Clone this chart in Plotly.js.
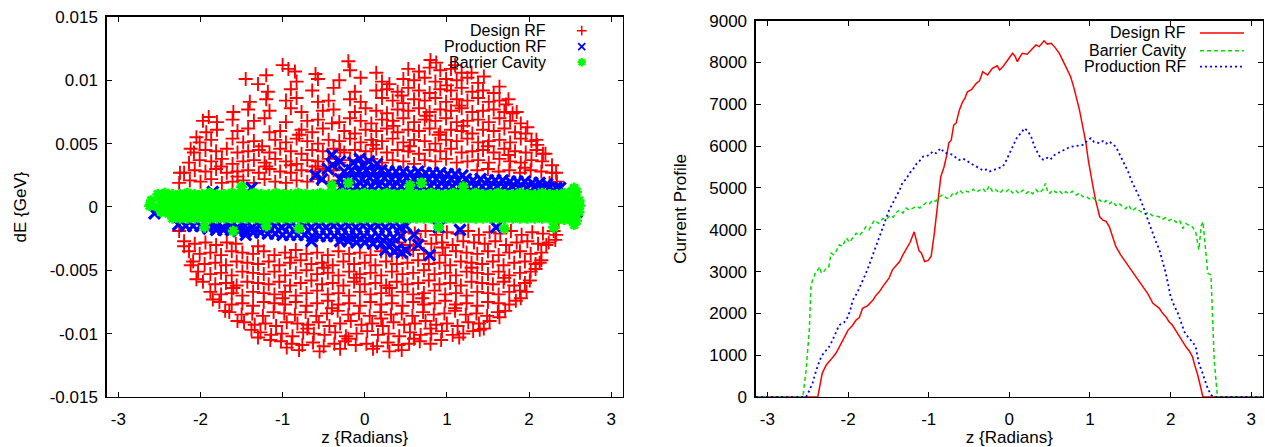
<!DOCTYPE html>
<html><head><meta charset="utf-8">
<script src="https://cdn.plot.ly/plotly-3.0.1.min.js"></script>
<style>html,body{margin:0;padding:0;background:#fff}#chart{width:1265px;height:447px}</style>
</head><body><div id="chart"></div>
<script>
// ---------- DATA ----------
const seriesNames = ['Design RF', 'Production RF', 'Barrier Cavity'];
const profileNames = ['Design RF', 'Barrier Cavity', 'Production RF'];

const zTickVals = [-3, -2, -1, 0, 1, 2, 3];
const zTickText = ['-3', '-2', '-1', '0', '1', '2', '3'];
const dETickVals = [-0.015, -0.01, -0.005, 0, 0.005, 0.01, 0.015];
const dETickText = ['-0.015', '-0.01', '-0.005', '0', '0.005', '0.01', '0.015'];
const currentTickVals = [0, 1000, 2000, 3000, 4000, 5000, 6000, 7000, 8000, 9000];
const currentTickText = ['0', '1000', '2000', '3000', '4000', '5000', '6000', '7000', '8000', '9000'];

// phase space [z (rad), dE (GeV)] -- Design RF
const designPts = [
[-2.26,.0019],[-2.13,.0021],[-2.0,.002],[-1.87,.0022],[-1.74,.0019],[-1.61,.002],[-1.48,.0021],[-1.35,.0019],[-1.22,.0022],[-1.09,.002],[-0.96,.0019],[-0.83,.0021],[-0.7,.002],[-0.57,.0022],[-0.44,.002],[-0.32,.0021],[2.25,.0019],[2.34,.002],
[-2.2,.0027],[-2.07,.0029],[-1.94,.0028],[-1.81,.003],[-1.68,.0027],[-1.55,.0028],[-1.42,.0029],[-1.29,.0027],[-1.16,.003],[-1.03,.0028],[-0.9,.0027],[-0.77,.0029],[-0.64,.0028],[-0.51,.003],[-0.38,.0029],[1.37,.0029],[1.5,.003],[1.63,.0028],[1.76,.0029],[1.89,.0027],[2.02,.0029],[2.15,.0028],[2.28,.0027],
[-2.14,.0035],[-2.01,.0037],[-1.87,.0036],[-1.74,.0038],[-1.61,.0034],[-1.48,.0036],[-1.35,.0037],[-1.22,.0035],[-1.09,.0038],[-0.96,.0036],[-0.83,.0034],[-0.7,.0037],[-0.57,.0036],[-0.44,.0038],[-0.31,.0035],[-0.18,.0037],[-0.05,.0036],[0.08,.0038],[0.21,.0035],[0.34,.0037],[0.47,.0036],[0.6,.0034],[0.73,.0037],[0.86,.0036],[0.99,.0038],[1.12,.0035],[1.25,.0036],[1.38,.0037],[1.51,.0035],[1.64,.0038],[1.77,.0036],[1.9,.0035],[2.03,.0037],[2.16,.0036],
[-2.08,.0043],[-1.94,.0045],[-1.81,.0044],[-1.68,.0046],[-1.55,.0043],[-1.42,.0044],[-1.29,.0045],[-1.16,.0043],[-1.03,.0046],[-0.9,.0044],[-0.77,.0042],[-0.64,.0045],[-0.51,.0044],[-0.38,.0046],[-0.25,.0043],[-0.12,.0045],[0.01,.0044],[0.14,.0046],[0.27,.0043],[0.4,.0045],[0.53,.0044],[0.66,.0042],[0.79,.0045],[0.92,.0044],[1.05,.0046],[1.18,.0043],[1.31,.0044],[1.44,.0045],[1.57,.0043],[1.7,.0046],[1.83,.0044],[1.96,.0043],[2.09,.0045],[2.17,.0042],
[-2.01,.0051],[-1.87,.0053],[-1.61,.0054],[-1.48,.0051],[-1.35,.0052],[-1.09,.0053],[-0.96,.0051],[-0.83,.0054],[-0.7,.0052],[-0.57,.005],[-0.44,.0053],[-0.31,.0052],[-0.18,.0054],[-0.05,.0051],[0.08,.0053],[0.21,.0052],[0.34,.0054],[0.47,.0051],[0.6,.0053],[0.73,.0052],[0.86,.005],[0.99,.0053],[1.12,.0052],[1.25,.0054],[1.38,.0051],[1.51,.0052],[1.64,.0053],[1.77,.0051],[1.9,.0054],[2.03,.0052],[2.1,.0049],
[-1.93,.0059],[-1.8,.0061],[-1.55,.006],[-1.42,.0062],[-1.16,.0059],[-1.03,.006],[-0.77,.0061],[-0.64,.0059],[-0.51,.0062],[-0.25,.006],[-0.12,.0058],[0.01,.0061],[0.14,.006],[0.27,.0062],[0.4,.0059],[0.53,.0061],[0.66,.006],[0.79,.0062],[0.92,.0059],[1.05,.0061],[1.18,.006],[1.31,.0058],[1.44,.0061],[1.57,.006],[1.7,.0062],[1.83,.0059],[1.96,.0058],
[-1.8,.0067],[-1.61,.0069],[-1.35,.0068],[-1.22,.007],[-0.96,.0067],[-0.7,.0068],[-0.57,.0069],[-0.31,.0067],[-0.18,.007],[-0.05,.0068],[0.08,.0066],[0.21,.0069],[0.34,.0068],[0.47,.007],[0.6,.0067],[0.73,.0069],[0.86,.0068],[0.99,.007],[1.12,.0067],[1.25,.0068],[1.38,.0069],[1.51,.0067],[1.64,.007],[1.77,.0068],[1.9,.0066],
[-1.6,.0075],[-1.42,.0077],[-1.16,.0076],[-0.9,.0078],[-0.77,.0075],[-0.51,.0076],[-0.38,.0077],[-0.12,.0075],[0.01,.0078],[0.14,.0076],[0.27,.0074],[0.4,.0077],[0.53,.0076],[0.66,.0078],[0.79,.0075],[0.92,.0077],[1.05,.0076],[1.18,.0078],[1.31,.0075],[1.44,.0076],[1.57,.0077],[1.7,.0075],[1.8,.0074],
[-1.4,.0083],[-1.2,.0085],[-0.96,.0084],[-0.83,.0086],[-0.57,.0083],[-0.44,.0084],[-0.18,.0085],[-0.05,.0083],[0.21,.0086],[0.34,.0084],[0.47,.0082],[0.6,.0085],[0.73,.0084],[0.86,.0086],[0.99,.0083],[1.12,.0085],[1.25,.0084],[1.38,.0086],[1.51,.0083],[1.64,.0084],[1.72,.0081],
[-1.18,.0091],[-0.9,.0093],[-0.64,.0092],[-0.38,.0094],[-0.12,.0091],[0.14,.0092],[0.27,.0093],[0.4,.0091],[0.53,.0094],[0.66,.0092],[0.79,.009],[0.92,.0093],[1.05,.0092],[1.18,.0094],[1.31,.0091],[1.44,.0092],[1.57,.009],
[-1.45,.0101],[-0.83,.0099],[-0.57,.0101],[-0.31,.01],[-0.05,.0102],[0.21,.0099],[0.47,.0101],[0.6,.01],[0.73,.0102],[0.86,.0099],[0.99,.0101],[1.12,.01],[1.25,.0102],[1.38,.0098],
[-0.85,.0107],[-0.6,.0105],[-0.18,.0108],[0.14,.0106],[0.53,.0109],[0.66,.0107],[0.79,.011],[0.92,.0108],[1.05,.0109],[1.18,.0106],
[-1.0,.0112],[-0.93,.0109],[-0.2,.0115],[0.8,.0116],[0.87,.0114],[-1.2,.0104],[-1.9,.0071],[-1.97,.0068],[-1.3,.0097],[1.1,.0112],
[-2.25,.0027],[-2.12,.0046],[-2.05,.0055],[2.33,.0027],[2.28,.0033],[2.2,.0042],[2.09,.0053],[1.98,.0063],[1.85,.0075],[1.75,.0085],[1.64,.0095],[1.45,.0103],[1.3,.0106],
[-1.55,.0024],[-1.2,.0032],[-0.9,.0033],[-0.6,.0032],[-1.75,.0032],[-0.3,.0045],[0.1,.0049],[0.55,.0048],[0.9,.0057],[1.2,.0064],[1.5,.0048],[0.35,.0064],[0.75,.0072],[1.15,.008],[0.45,.0088],[1.0,.0096],[0.3,.0097],[-0.4,.0066],[-0.8,.0057],[-1.25,.0048],[1.75,.0041],[1.95,.0031],
[-2.26,-.0019],[0.48,-.002],[0.61,-.0021],[0.74,-.0019],[0.87,-.0022],[1.0,-.002],[1.13,-.0021],[1.26,-.0019],[1.39,-.0022],[1.52,-.002],[1.65,-.0021],[1.78,-.0019],[1.91,-.0022],[2.04,-.002],[2.17,-.0021],[2.3,-.0019],
[-2.2,-.0027],[-2.07,-.0029],[-1.94,-.0028],[-1.81,-.003],[-1.68,-.0028],[-1.57,-.0029],[0.42,-.0028],[0.55,-.003],[0.68,-.0027],[0.81,-.0029],[0.94,-.0028],[1.07,-.003],[1.2,-.0027],[1.33,-.0028],[1.46,-.0029],[1.59,-.0027],[1.72,-.003],[1.85,-.0028],[1.98,-.0027],[2.11,-.0029],[2.24,-.0028],[2.32,-.0026],
[-2.14,-.0035],[-2.01,-.0037],[-1.88,-.0036],[-1.75,-.0038],[-1.62,-.0035],[-1.49,-.0036],[-1.36,-.0037],[-1.23,-.0035],[-1.1,-.0038],[-0.97,-.0036],[-0.84,-.0034],[-0.71,-.0037],[-0.58,-.0036],[-0.45,-.0038],[-0.32,-.0035],[-0.19,-.0037],[-0.06,-.0036],[0.07,-.0038],[0.2,-.0035],[0.33,-.0037],[0.46,-.0036],[0.59,-.0034],[0.72,-.0037],[0.85,-.0036],[0.98,-.0038],[1.11,-.0035],[1.24,-.0036],[1.37,-.0037],[1.5,-.0035],[1.63,-.0038],[1.76,-.0036],[1.89,-.0035],[2.02,-.0037],[2.15,-.0036],
[-2.09,-.0043],[-1.95,-.0045],[-1.82,-.0044],[-1.69,-.0046],[-1.56,-.0043],[-1.43,-.0044],[-1.3,-.0045],[-1.17,-.0043],[-1.04,-.0046],[-0.91,-.0044],[-0.78,-.0042],[-0.65,-.0045],[-0.52,-.0044],[-0.39,-.0046],[-0.26,-.0043],[-0.13,-.0045],[0.0,-.0044],[0.13,-.0046],[0.26,-.0043],[0.39,-.0045],[0.52,-.0044],[0.65,-.0042],[0.78,-.0045],[0.91,-.0044],[1.04,-.0046],[1.17,-.0043],[1.3,-.0044],[1.43,-.0045],[1.56,-.0043],[1.69,-.0046],[1.82,-.0044],[1.95,-.0043],[2.08,-.0045],[2.15,-.0042],
[-2.03,-.0051],[-1.88,-.0053],[-1.75,-.0052],[-1.62,-.0054],[-1.49,-.0051],[-1.36,-.0052],[-1.23,-.0053],[-1.1,-.0051],[-0.97,-.0054],[-0.84,-.0052],[-0.71,-.005],[-0.58,-.0053],[-0.45,-.0052],[-0.32,-.0054],[-0.19,-.0051],[-0.06,-.0053],[0.07,-.0052],[0.2,-.0054],[0.33,-.0051],[0.46,-.0053],[0.59,-.0052],[0.72,-.005],[0.85,-.0053],[0.98,-.0052],[1.11,-.0054],[1.24,-.0051],[1.37,-.0052],[1.5,-.0053],[1.63,-.0051],[1.76,-.0054],[1.89,-.0052],[2.02,-.0051],[2.08,-.0049],
[-1.97,-.0059],[-1.82,-.0061],[-1.69,-.006],[-1.56,-.0062],[-1.43,-.0059],[-1.3,-.006],[-1.17,-.0061],[-1.04,-.0059],[-0.91,-.0062],[-0.78,-.006],[-0.65,-.0058],[-0.52,-.0061],[-0.39,-.006],[-0.26,-.0062],[-0.13,-.0059],[0.0,-.0061],[0.13,-.006],[0.26,-.0062],[0.39,-.0059],[0.52,-.0061],[0.65,-.006],[0.78,-.0058],[0.91,-.0061],[1.04,-.006],[1.17,-.0062],[1.3,-.0059],[1.43,-.006],[1.56,-.0061],[1.69,-.0059],[1.82,-.0062],[1.95,-.006],[2.01,-.0058],
[-1.88,-.0067],[-1.75,-.0069],[-1.62,-.0068],[-1.49,-.007],[-1.36,-.0067],[-1.23,-.0068],[-1.1,-.0069],[-0.97,-.0067],[-0.84,-.007],[-0.71,-.0068],[-0.58,-.0066],[-0.45,-.0069],[-0.32,-.0068],[-0.19,-.007],[-0.06,-.0067],[0.07,-.0069],[0.2,-.0068],[0.33,-.007],[0.46,-.0067],[0.59,-.0069],[0.72,-.0068],[0.85,-.0066],[0.98,-.0069],[1.11,-.0068],[1.24,-.007],[1.37,-.0067],[1.5,-.0068],[1.63,-.0069],[1.76,-.0067],[1.89,-.0066],
[-1.77,-.0075],[-1.62,-.0077],[-1.49,-.0076],[-1.36,-.0078],[-1.23,-.0075],[-1.1,-.0076],[-0.97,-.0077],[-0.84,-.0075],[-0.71,-.0078],[-0.58,-.0076],[-0.45,-.0074],[-0.32,-.0077],[-0.19,-.0076],[-0.06,-.0078],[0.07,-.0075],[0.2,-.0077],[0.33,-.0076],[0.46,-.0078],[0.59,-.0075],[0.72,-.0077],[0.85,-.0076],[0.98,-.0074],[1.11,-.0077],[1.24,-.0076],[1.37,-.0078],[1.5,-.0075],[1.63,-.0076],[1.76,-.0077],[1.84,-.0074],
[-1.65,-.0083],[-1.5,-.0085],[-1.37,-.0084],[-1.24,-.0086],[-1.11,-.0083],[-0.98,-.0084],[-0.85,-.0085],[-0.72,-.0083],[-0.59,-.0086],[-0.46,-.0084],[-0.33,-.0082],[-0.2,-.0085],[-0.07,-.0084],[0.06,-.0086],[0.19,-.0083],[0.32,-.0085],[0.45,-.0084],[0.58,-.0086],[0.71,-.0083],[0.84,-.0085],[0.97,-.0084],[1.1,-.0082],[1.23,-.0085],[1.36,-.0084],[1.49,-.0086],[1.62,-.0083],[1.71,-.0082],
[-1.47,-.0091],[-1.34,-.0093],[-1.21,-.0092],[-1.08,-.0094],[-0.95,-.0091],[-0.82,-.0092],[-0.69,-.0093],[-0.56,-.0091],[-0.43,-.0094],[-0.3,-.0092],[-0.17,-.009],[-0.04,-.0093],[0.09,-.0092],[0.22,-.0094],[0.35,-.0091],[0.48,-.0093],[0.61,-.0092],[0.74,-.009],[0.87,-.0093],[1.0,-.0092],[1.13,-.0094],[1.26,-.0091],[1.39,-.0092],[1.52,-.009],
[-1.27,-.0099],[-1.14,-.0101],[-1.01,-.01],[-0.88,-.0102],[-0.75,-.0099],[-0.62,-.01],[-0.49,-.0101],[-0.36,-.0099],[-0.23,-.0102],[-0.1,-.01],[0.03,-.0098],[0.16,-.0101],[0.29,-.01],[0.42,-.0102],[0.55,-.0099],[0.68,-.0101],[0.81,-.01],[0.94,-.0098],[1.07,-.0101],[1.2,-.01],[1.32,-.0098],
[-1.02,-.0106],[-0.89,-.0108],[-0.76,-.0109],[-0.63,-.0107],[-0.5,-.011],[-0.37,-.0108],[-0.24,-.0106],[-0.11,-.0109],[0.02,-.0108],[0.15,-.011],[0.28,-.0107],[0.41,-.0109],[0.54,-.0108],[0.67,-.0106],[0.8,-.0108],[0.93,-.0105],
[-0.8,-.0113],[-0.55,-.0114],[-0.3,-.0112],[0.3,-.0114],[0.45,-.0113],[0.1,-.0112],[-0.95,-.0111],[-1.3,-.0103],[1.15,-.0103],[1.45,-.0096],
[-2.2,-.0031],[-2.12,-.0046],[-2.05,-.0057],[-1.85,-.0073],[-1.7,-.0082],[-1.55,-.009],[-1.38,-.0097],[-1.15,-.0105],
[2.21,-.003],[2.13,-.0044],[1.97,-.0067],[1.9,-.0072],[1.64,-.0087],[1.4,-.0097],[2.33,-.0022],[2.36,-.0012],
[-1.3,-.0031],[-0.9,-.004],[-0.5,-.0048],[-0.1,-.0056],[0.3,-.0064],[0.7,-.0072],[1.1,-.008],[-1.6,-.0064],[-1.0,-.0072],[-0.4,-.008],[0.2,-.0088],[0.8,-.0096],[-0.7,-.0096],[1.3,-.0048],[1.7,-.0056],[0.95,-.0032],[-0.2,-.0104],[0.6,-.0104]
];

// Production RF
const productionPts = [
[-0.25,.0028],[-0.16,.0029],[-0.07,.0028],[0.02,.0029],[0.11,.0028],[0.2,.0029],[0.29,.0028],[0.38,.0028],[0.47,.0028],[0.56,.0027],[0.65,.0028],[0.74,.0027],[0.83,.0027],[0.92,.0027],[1.01,.0026],[1.1,.0026],[1.19,.0025],
[-0.3,.0022],[-0.21,.0022],[-0.12,.0023],[-0.03,.0022],[0.06,.0023],[0.15,.0022],[0.24,.0023],[0.33,.0022],[0.42,.0022],[0.51,.0023],[0.6,.0022],[0.69,.0022],[0.78,.0022],[0.87,.0022],[0.96,.0021],[1.05,.0022],[1.14,.0021],[1.23,.0022],[1.32,.0021],[1.41,.0022],[1.5,.0021],[1.59,.0021],[1.68,.0021],[1.77,.002],[1.86,.002],[1.95,.002],[2.04,.0019],[2.13,.0019],[2.22,.0018],
[-0.28,.0016],[-0.19,.0016],[-0.1,.0016],[-0.01,.0016],[0.08,.0016],[0.17,.0017],[0.26,.0016],[0.35,.0016],[0.44,.0016],[0.53,.0016],[0.62,.0016],[0.71,.0016],[0.8,.0016],[0.89,.0016],[0.98,.0016],[1.07,.0016],[1.16,.0016],[1.25,.0016],[1.34,.0016],[1.43,.0016],[1.52,.0016],[1.61,.0016],[1.7,.0016],[1.79,.0016],[1.88,.0015],[1.97,.0015],[2.06,.0015],[2.15,.0015],[2.24,.0015],[2.33,.0015],
[-0.4,.0041],[-0.14,.0035],[-0.02,.0033],[-0.39,.0033],[-0.06,.0038],[0.05,.0036],[-0.45,.003],[-0.3,.0036],[-1.38,.0015],[-1.85,.0012],[0.15,.0034],[-0.6,.0025],[-0.52,.0022],[2.38,.0015],
[-2.27,-.0014],[-2.18,-.0015],[-2.09,-.0015],[-2.0,-.0015],[-1.91,-.0016],[-1.82,-.0015],[-1.73,-.0016],[-1.64,-.0015],[-1.55,-.0016],[-1.46,-.0015],[-1.37,-.0016],[-1.28,-.0015],[-1.19,-.0016],[-1.1,-.0015],[-1.01,-.0016],[-0.92,-.0015],[-0.83,-.0016],[-0.74,-.0015],[-0.65,-.0016],[-0.56,-.0015],[-0.47,-.0016],[-0.38,-.0015],[-0.29,-.0016],[-0.2,-.0015],[-0.11,-.0016],[-0.02,-.0015],[0.07,-.0016],[0.16,-.0015],[0.25,-.0016],[0.34,-.0015],[0.43,-.0016],[0.5,-.0015],
[-1.9,-.0017],[-1.81,-.0018],[-1.72,-.0018],[-1.63,-.0018],[-1.54,-.0019],[-1.45,-.0019],[-1.36,-.002],[-1.27,-.002],[-1.18,-.0021],[-1.09,-.0021],[-1.0,-.0022],[-0.91,-.0022],[-0.82,-.0022],[-0.73,-.0022],[-0.64,-.0023],[-0.55,-.0023],[-0.46,-.0023],[-0.37,-.0023],[-0.28,-.0023],[-0.19,-.0023],[-0.1,-.0023],[-0.01,-.0023],[0.08,-.0024],[0.17,-.0023],[0.26,-.0024],[0.35,-.0024],[0.44,-.0023],
[-0.3,-.0027],[-0.2,-.0027],[-0.1,-.0028],[0.0,-.0028],[0.1,-.0029],[0.2,-.0029],[0.3,-.0031],[0.4,-.0033],[0.45,-.0036],[0.5,-.0034],[0.36,-.0035],
[0.65,-.003],[0.79,-.0038],[1.16,-.0018],[1.6,-.0016],[-2.56,-.0005],[2.58,-.0004],[0.6,-.0022],[-0.65,-.0027],[-1.45,-.0022],[0.9,-.0016],[0.25,-.0034]
];

// Barrier Cavity
const barrierPts = [
[-2.52,.001],[-2.43,.0011],[-2.34,.001],[-2.25,.001],[-2.16,.0011],[-2.07,.001],[-1.98,.001],[-1.89,.0011],[-1.8,.001],[-1.71,.001],[-1.62,.0011],[-1.53,.001],[-1.44,.001],[-1.35,.0011],[-1.26,.001],[-1.17,.001],[-1.08,.0011],[-0.99,.001],[-0.9,.001],[-0.81,.0011],[-0.72,.001],[-0.63,.001],[-0.54,.0011],[-0.45,.001],[-0.36,.001],[-0.27,.0011],[-0.18,.001],[-0.09,.001],[0,.0011],[0.09,.001],[0.18,.001],[0.27,.0011],[0.36,.001],[0.45,.001],[0.54,.0011],[0.63,.001],[0.72,.001],[0.81,.0011],[0.9,.001],[0.99,.001],[1.08,.0011],[1.17,.001],[1.26,.001],[1.35,.0011],[1.44,.001],[1.53,.001],[1.62,.0011],[1.71,.001],[1.8,.001],[1.89,.0011],[1.98,.001],[2.07,.001],[2.16,.0011],[2.25,.001],[2.34,.001],[2.43,.0011],[2.52,.0012],[2.58,.0012],
[-2.6,.0005],[-2.48,.0006],[-2.39,.0005],[-2.3,.0005],[-2.21,.0006],[-2.12,.0005],[-2.03,.0005],[-1.94,.0006],[-1.85,.0005],[-1.76,.0005],[-1.67,.0006],[-1.58,.0005],[-1.49,.0005],[-1.4,.0006],[-1.31,.0005],[-1.22,.0005],[-1.13,.0006],[-1.04,.0005],[-0.95,.0005],[-0.86,.0006],[-0.77,.0005],[-0.68,.0005],[-0.59,.0006],[-0.5,.0005],[-0.41,.0005],[-0.32,.0006],[-0.23,.0005],[-0.14,.0005],[-0.05,.0006],[0.04,.0005],[0.13,.0005],[0.22,.0006],[0.31,.0005],[0.4,.0005],[0.49,.0006],[0.58,.0005],[0.67,.0005],[0.76,.0006],[0.85,.0005],[0.94,.0005],[1.03,.0006],[1.12,.0005],[1.21,.0005],[1.3,.0006],[1.39,.0005],[1.48,.0005],[1.57,.0006],[1.66,.0005],[1.75,.0005],[1.84,.0006],[1.93,.0005],[2.02,.0005],[2.11,.0006],[2.2,.0005],[2.29,.0005],[2.38,.0006],[2.47,.0005],[2.56,.0006],[2.61,.0005],
[-2.62,.0001],[-2.52,0],[-2.43,.0001],[-2.34,0],[-2.25,0],[-2.16,.0001],[-2.07,0],[-1.98,0],[-1.89,.0001],[-1.8,0],[-1.71,0],[-1.62,.0001],[-1.53,0],[-1.44,0],[-1.35,.0001],[-1.26,0],[-1.17,0],[-1.08,.0001],[-0.99,0],[-0.9,0],[-0.81,.0001],[-0.72,0],[-0.63,0],[-0.54,.0001],[-0.45,0],[-0.36,0],[-0.27,.0001],[-0.18,0],[-0.09,0],[0,.0001],[0.09,0],[0.18,0],[0.27,.0001],[0.36,0],[0.45,0],[0.54,.0001],[0.63,0],[0.72,0],[0.81,.0001],[0.9,0],[0.99,0],[1.08,.0001],[1.17,0],[1.26,0],[1.35,.0001],[1.44,0],[1.53,0],[1.62,.0001],[1.71,0],[1.8,0],[1.89,.0001],[1.98,0],[2.07,0],[2.16,.0001],[2.25,0],[2.34,0],[2.43,.0001],[2.52,0],[2.62,.0001],
[-2.48,-.0004],[-2.39,-.0005],[-2.3,-.0005],[-2.21,-.0004],[-2.12,-.0005],[-2.03,-.0005],[-1.94,-.0004],[-1.85,-.0005],[-1.76,-.0005],[-1.67,-.0004],[-1.58,-.0005],[-1.49,-.0005],[-1.4,-.0004],[-1.31,-.0005],[-1.22,-.0005],[-1.13,-.0004],[-1.04,-.0005],[-0.95,-.0005],[-0.86,-.0004],[-0.77,-.0005],[-0.68,-.0005],[-0.59,-.0004],[-0.5,-.0005],[-0.41,-.0005],[-0.32,-.0004],[-0.23,-.0005],[-0.14,-.0005],[-0.05,-.0004],[0.04,-.0005],[0.13,-.0005],[0.22,-.0004],[0.31,-.0005],[0.4,-.0005],[0.49,-.0004],[0.58,-.0005],[0.67,-.0005],[0.76,-.0004],[0.85,-.0005],[0.94,-.0005],[1.03,-.0004],[1.12,-.0005],[1.21,-.0005],[1.3,-.0004],[1.39,-.0005],[1.48,-.0005],[1.57,-.0004],[1.66,-.0005],[1.75,-.0005],[1.84,-.0004],[1.93,-.0005],[2.02,-.0005],[2.11,-.0004],[2.2,-.0005],[2.29,-.0005],[2.38,-.0004],[2.47,-.0005],[2.56,-.0005],[2.61,-.0004],
[-2.34,-.0009],[-2.25,-.0009],[-2.16,-.0009],[-2.07,-.0009],[-1.98,-.0009],[-1.89,-.0009],[-1.8,-.0009],[-1.71,-.0009],[-1.62,-.0009],[-1.53,-.0009],[-1.44,-.0009],[-1.35,-.0009],[-1.26,-.0009],[-1.17,-.0009],[-1.08,-.0009],[-0.99,-.0009],[-0.9,-.0009],[-0.81,-.0009],[-0.72,-.0009],[-0.63,-.0009],[-0.54,-.0009],[-0.45,-.0009],[-0.36,-.0009],[-0.27,-.0009],[-0.18,-.0009],[-0.09,-.0009],[0,-.0009],[0.09,-.0009],[0.18,-.0009],[0.27,-.0009],[0.36,-.0009],[0.45,-.0009],[0.54,-.0009],[0.63,-.0009],[0.72,-.0009],[0.81,-.0009],[0.9,-.0009],[0.99,-.0009],[1.08,-.0009],[1.17,-.0009],[1.26,-.0009],[1.35,-.0009],[1.44,-.0009],[1.53,-.0009],[1.62,-.0009],[1.71,-.0009],[1.8,-.0009],[1.89,-.0009],[1.98,-.0009],[2.07,-.0009],[2.16,-.0009],[2.25,-.0009],[2.34,-.001],[2.43,-.001],[2.52,-.001],[2.58,-.0011],
[0.69,.0019],[0.55,.0017],[1.2,.0016],[-1.5,.0016],[-0.4,.0017],[-1.95,-.0016],[-1.2,-.0015],[0.9,-.0016],[1.7,-.0017],[2.3,-.0016],[2.55,.0015],[2.55,-.0014],[-0.8,-.0017],[-1.6,-.0019],[-0.2,.0019]
];

// current profiles [z (rad), current]
const designProfile = [
[-3.14,0],[-2.375,0],[-2.32,566],[-2.27,765],[-2.21,900],[-2.15,1045],[-2.08,1300],[-2.0,1600],[-1.95,1700],[-1.9,1840],[-1.86,1900],[-1.82,2120],[-1.76,2180],[-1.69,2320],[-1.65,2440],[-1.61,2520],[-1.57,2640],[-1.53,2760],[-1.49,2850],[-1.45,3040],[-1.4,3150],[-1.36,3240],[-1.32,3400],[-1.28,3520],[-1.23,3700],[-1.18,3950],[-1.15,3750],[-1.12,3500],[-1.09,3440],[-1.05,3240],[-1.01,3260],[-0.97,3360],[-0.93,3915],[-0.91,4230],[-0.88,4700],[-0.85,5270],[-0.81,5500],[-0.78,5750],[-0.75,6080],[-0.72,6150],[-0.69,6500],[-0.66,6550],[-0.62,6860],[-0.58,7060],[-0.55,7150],[-0.52,7300],[-0.47,7350],[-0.41,7500],[-0.37,7560],[-0.33,7780],[-0.27,7700],[-0.21,7860],[-0.15,7920],[-0.12,7820],[-0.08,7900],[-0.02,8060],[0.04,8220],[0.07,8150],[0.1,8020],[0.13,8130],[0.16,8220],[0.22,8200],[0.26,8280],[0.29,8340],[0.33,8420],[0.37,8380],[0.4,8460],[0.43,8520],[0.47,8440],[0.52,8460],[0.57,8350],[0.62,8220],[0.65,8100],[0.68,7980],[0.72,7850],[0.76,7660],[0.8,7400],[0.83,7180],[0.87,6860],[0.91,6465],[0.95,6070],[0.98,5650],[1.01,5270],[1.04,5000],[1.07,4710],[1.1,4450],[1.12,4310],[1.16,4230],[1.2,4200],[1.24,4070],[1.28,3850],[1.32,3600],[1.38,3400],[1.45,3200],[1.51,3040],[1.56,2900],[1.61,2760],[1.65,2640],[1.69,2520],[1.72,2460],[1.78,2240],[1.82,2180],[1.86,2120],[1.9,2000],[1.94,1920],[1.98,1800],[2.02,1720],[2.06,1600],[2.11,1440],[2.15,1320],[2.19,1200],[2.23,1100],[2.27,965],[2.3,750],[2.33,566],[2.37,250],[2.4,0],[3.14,0]
];
const barrierProfile = [
[-3.14,0],[-2.56,0],[-2.52,645],[-2.5,1100],[-2.48,1600],[-2.46,2640],[-2.44,2800],[-2.42,2880],[-2.4,3000],[-2.375,3040],[-2.35,3115],[-2.33,2960],[-2.3,3000],[-2.27,3080],[-2.24,3100],[-2.21,3440],[-2.18,3400],[-2.15,3475],[-2.11,3640],[-2.07,3600],[-2.02,3800],[-1.98,3700],[-1.94,3800],[-1.9,3915],[-1.86,3860],[-1.82,3950],[-1.78,4070],[-1.74,4000],[-1.7,4150],[-1.67,4230],[-1.62,4150],[-1.57,4270],[-1.52,4250],[-1.48,4350],[-1.44,4300],[-1.4,4420],[-1.36,4470],[-1.32,4400],[-1.28,4520],[-1.24,4470],[-1.2,4510],[-1.15,4560],[-1.11,4520],[-1.07,4590],[-1.03,4650],[-0.99,4620],[-0.95,4710],[-0.91,4680],[-0.87,4790],[-0.83,4830],[-0.78,4760],[-0.74,4750],[-0.7,4880],[-0.66,4850],[-0.62,4950],[-0.58,4880],[-0.54,4920],[-0.49,4900],[-0.45,4970],[-0.41,4900],[-0.37,4950],[-0.33,4990],[-0.29,4900],[-0.25,5050],[-0.21,4920],[-0.17,4960],[-0.12,4870],[-0.08,4950],[-0.04,4910],[0,4980],[0.04,4880],[0.08,4940],[0.12,4860],[0.17,4950],[0.21,4870],[0.25,4930],[0.29,4860],[0.33,4960],[0.37,4880],[0.41,4950],[0.45,5110],[0.48,4870],[0.5,4870],[0.54,4950],[0.58,4890],[0.62,4940],[0.66,4850],[0.7,4910],[0.74,4860],[0.78,4920],[0.83,4830],[0.87,4880],[0.91,4790],[0.95,4800],[0.99,4740],[1.03,4780],[1.07,4700],[1.12,4710],[1.16,4640],[1.2,4700],[1.24,4620],[1.28,4680],[1.32,4580],[1.36,4630],[1.4,4560],[1.44,4500],[1.48,4590],[1.52,4450],[1.57,4520],[1.61,4470],[1.65,4400],[1.69,4380],[1.73,4420],[1.77,4340],[1.81,4330],[1.86,4310],[1.9,4250],[1.94,4290],[1.98,4220],[2.02,4260],[2.07,4180],[2.11,4230],[2.15,4030],[2.19,4150],[2.23,4100],[2.27,4070],[2.31,3950],[2.35,3520],[2.38,4100],[2.4,4190],[2.42,3800],[2.46,2960],[2.5,2920],[2.52,1840],[2.54,885],[2.58,0],[3.14,0]
];
const productionProfile = [
[-3.14,0],[-2.52,0],[-2.48,150],[-2.44,330],[-2.4,600],[-2.35,885],[-2.32,1000],[-2.29,1085],[-2.25,1150],[-2.21,1285],[-2.16,1500],[-2.11,1720],[-2.05,1780],[-2.0,1920],[-1.97,2100],[-1.94,2320],[-1.89,2480],[-1.84,2680],[-1.78,2950],[-1.73,3200],[-1.69,3420],[-1.65,3640],[-1.61,3860],[-1.57,4070],[-1.53,4280],[-1.49,4470],[-1.45,4620],[-1.4,4790],[-1.36,4950],[-1.32,5150],[-1.28,5200],[-1.24,5350],[-1.2,5430],[-1.15,5580],[-1.11,5650],[-1.07,5750],[-1.03,5760],[-0.99,5790],[-0.95,5870],[-0.91,5830],[-0.87,5910],[-0.85,5950],[-0.81,5850],[-0.78,5830],[-0.74,5800],[-0.7,5790],[-0.66,5720],[-0.62,5670],[-0.58,5700],[-0.54,5670],[-0.49,5600],[-0.45,5560],[-0.41,5510],[-0.37,5470],[-0.33,5420],[-0.29,5440],[-0.25,5390],[-0.21,5420],[-0.17,5460],[-0.12,5480],[-0.08,5510],[-0.04,5650],[0.02,5910],[0.06,6050],[0.1,6230],[0.14,6300],[0.19,6430],[0.23,6350],[0.27,6230],[0.31,6000],[0.35,5830],[0.39,5700],[0.43,5670],[0.47,5720],[0.51,5680],[0.56,5790],[0.6,5830],[0.65,5880],[0.7,5950],[0.74,5970],[0.78,5990],[0.83,6000],[0.87,6020],[0.91,6030],[0.95,6100],[1.01,6190],[1.05,6100],[1.08,6080],[1.12,6070],[1.16,6120],[1.2,6060],[1.24,6110],[1.28,6050],[1.31,6000],[1.34,5910],[1.38,5750],[1.43,5590],[1.47,5400],[1.51,5190],[1.56,5000],[1.61,4790],[1.65,4600],[1.69,4390],[1.73,4150],[1.76,3990],[1.81,3750],[1.86,3520],[1.9,3240],[1.94,2960],[1.97,2680],[2.0,2400],[2.04,2200],[2.09,2000],[2.13,1780],[2.17,1560],[2.22,1420],[2.27,1320],[2.31,1200],[2.33,1000],[2.35,805],[2.39,600],[2.42,405],[2.46,200],[2.5,50],[2.54,0],[3.14,0]
];

// ---------- STYLE ----------
const FONT = 'Liberation Sans, Arial, Helvetica, sans-serif';
const RED = '#ff0000', BLUE = '#0000ff', GREEN = '#00ff00', GREEN_LINE = '#00dd00';
const xs = a => a.map(p => p[0]);
const ys = a => a.map(p => p[1]);

const traces = [
  {type:'scatter', mode:'markers', name:seriesNames[0], x:xs(designPts), y:ys(designPts), xaxis:'x', yaxis:'y', showlegend:false,
   marker:{symbol:'cross-thin-open', size:10, color:RED, line:{color:RED, width:1.9}}},
  {type:'scatter', mode:'markers', name:seriesNames[1], x:xs(productionPts), y:ys(productionPts), xaxis:'x', yaxis:'y', showlegend:false,
   marker:{symbol:'x-thin-open', size:11, color:BLUE, line:{color:BLUE, width:3.2}}},
  {type:'scatter', mode:'markers', name:seriesNames[2], x:xs(barrierPts), y:ys(barrierPts), xaxis:'x', yaxis:'y', showlegend:false,
   marker:{symbol:'asterisk-open', size:9, color:GREEN, line:{color:GREEN, width:2.8}}},
  {type:'scatter', mode:'lines', name:profileNames[0], x:xs(designProfile), y:ys(designProfile), xaxis:'x2', yaxis:'y2', showlegend:false,
   line:{color:RED, width:1.5}},
  {type:'scatter', mode:'lines', name:profileNames[1], x:xs(barrierProfile), y:ys(barrierProfile), xaxis:'x2', yaxis:'y2', showlegend:false,
   line:{color:GREEN_LINE, width:1.5, dash:'4px,3px'}},
  {type:'scatter', mode:'lines', name:profileNames[2], x:xs(productionProfile), y:ys(productionProfile), xaxis:'x2', yaxis:'y2', showlegend:false,
   line:{color:BLUE, width:1.8, dash:'2px,3px'}},
  // legend key symbols for left panel (on hidden overlay axes, unit range)
  {type:'scatter', mode:'markers', x:[0.9205,0.9205,0.9205], y:[0.964,0.922,0.881], xaxis:'x3', yaxis:'y3', showlegend:false, hoverinfo:'skip',
   marker:{symbol:['cross-thin-open','x-thin-open','asterisk-open'], size:7, color:[RED,BLUE,GREEN], line:{color:[RED,BLUE,GREEN], width:[1.5,1.8,2.2]}}}
];

function axisBase(extra) {
  return Object.assign({
    showgrid:false, zeroline:false, showline:true, linecolor:'#000', linewidth:1.5, mirror:'ticks',
    ticks:'inside', ticklen:5, tickwidth:1, tickcolor:'#000',
    tickfont:{family:FONT, size:17, color:'#000'}, automargin:false
  }, extra);
}
const PI = 3.14159;
const layout = {
  width:1265, height:447, margin:{l:0, r:0, t:0, b:0},
  paper_bgcolor:'#fff', plot_bgcolor:'rgba(0,0,0,0)',
  font:{family:FONT, color:'#000'},
  showlegend:false,
  xaxis: axisBase({domain:[0.0844,0.4923], anchor:'y', range:[-PI,PI], tickmode:'array', tickvals:zTickVals, ticktext:zTickText,
    ticklabelstandoff:6, title:{text:'z {Radians}', font:{family:FONT, size:17}, standoff:6}}),
  yaxis: axisBase({domain:[0.1119,0.9620], anchor:'x', range:[-0.015,0.015], tickmode:'array', tickvals:dETickVals, ticktext:dETickText,
    ticklabelstandoff:4, title:{text:'dE {GeV}', font:{family:FONT, size:17}, standoff:18}}),
  xaxis2: axisBase({domain:[0.5976,0.9982], anchor:'y2', range:[-PI,PI], tickmode:'array', tickvals:zTickVals, ticktext:zTickText,
    ticklabelstandoff:6, title:{text:'z {Radians}', font:{family:FONT, size:17}, standoff:6}}),
  yaxis2: axisBase({domain:[0.1119,0.9537], anchor:'x2', range:[0,9000], tickmode:'array', tickvals:currentTickVals, ticktext:currentTickText,
    ticklabelstandoff:4, title:{text:'Current Profile', font:{family:FONT, size:17}, standoff:18}}),
  xaxis3: {overlaying:'x', anchor:'y3', range:[0,1], visible:false, fixedrange:true},
  yaxis3: {overlaying:'y', anchor:'x3', range:[0,1], visible:false, fixedrange:true},
  annotations: [
    {xref:'paper', yref:'paper', x:0.4334, y:0.9313, xanchor:'right', yanchor:'middle', text:seriesNames[0], showarrow:false, font:{family:FONT, size:16}},
    {xref:'paper', yref:'paper', x:0.4334, y:0.8955, xanchor:'right', yanchor:'middle', text:seriesNames[1], showarrow:false, font:{family:FONT, size:16}},
    {xref:'paper', yref:'paper', x:0.4334, y:0.8606, xanchor:'right', yanchor:'middle', text:seriesNames[2], showarrow:false, font:{family:FONT, size:16}},
    {xref:'paper', yref:'paper', x:0.9391, y:0.9262, xanchor:'right', yanchor:'middle', text:profileNames[0], showarrow:false, font:{family:FONT, size:16}},
    {xref:'paper', yref:'paper', x:0.9391, y:0.8866, xanchor:'right', yanchor:'middle', text:profileNames[1], showarrow:false, font:{family:FONT, size:16}},
    {xref:'paper', yref:'paper', x:0.9391, y:0.8508, xanchor:'right', yanchor:'middle', text:profileNames[2], showarrow:false, font:{family:FONT, size:16}}
  ],
  shapes: [
    {type:'line', xref:'paper', yref:'paper', x0:0.9486, x1:0.9834, y0:0.9262, y1:0.9262, line:{color:RED, width:1.5}},
    {type:'line', xref:'paper', yref:'paper', x0:0.9486, x1:0.9834, y0:0.8866, y1:0.8866, line:{color:GREEN_LINE, width:1.5, dash:'4px,3px'}},
    {type:'line', xref:'paper', yref:'paper', x0:0.9486, x1:0.9834, y0:0.8508, y1:0.8508, line:{color:BLUE, width:1.8, dash:'2px,3px'}}
  ]
};

Plotly.newPlot('chart', traces, layout, {staticPlot:true, displayModeBar:false});
</script>
</body></html>
